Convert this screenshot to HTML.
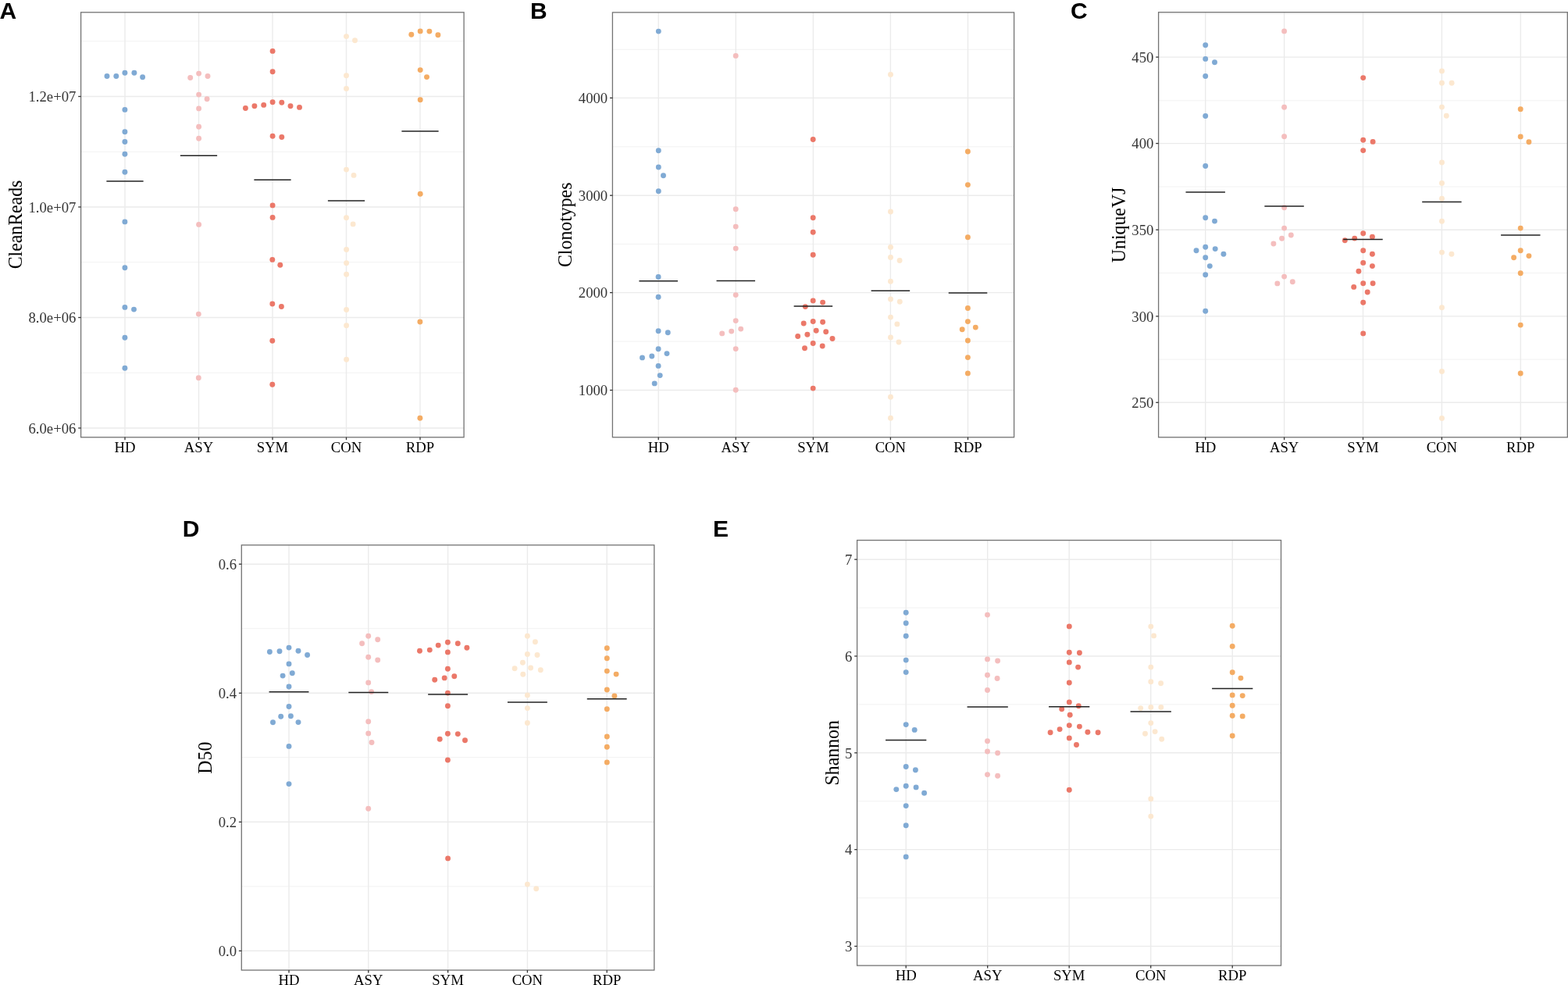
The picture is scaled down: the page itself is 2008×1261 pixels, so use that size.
<!DOCTYPE html><html><head><meta charset="utf-8"><title>Figure</title><style>html,body{margin:0;padding:0;background:#fff;overflow:hidden;}svg{display:block;}.t{font-family:"Liberation Serif","Times New Roman",serif;}.lab{font-family:"Liberation Sans",Arial,sans-serif;font-weight:bold;}</style></head><body><svg width="2008" height="1261" viewBox="0 0 2008 1261"><rect x="0" y="0" width="2008" height="1261" fill="#fff"/><g><line x1="103.6" x2="594.1" y1="52.75" y2="52.75" stroke="#F2F2F2" stroke-width="1.0"/><line x1="103.6" x2="594.1" y1="194.25" y2="194.25" stroke="#F2F2F2" stroke-width="1.0"/><line x1="103.6" x2="594.1" y1="335.75" y2="335.75" stroke="#F2F2F2" stroke-width="1.0"/><line x1="103.6" x2="594.1" y1="477.25" y2="477.25" stroke="#F2F2F2" stroke-width="1.0"/><line x1="103.6" x2="594.1" y1="123.5" y2="123.5" stroke="#EBEBEB" stroke-width="1.4"/><line x1="103.6" x2="594.1" y1="265" y2="265" stroke="#EBEBEB" stroke-width="1.4"/><line x1="103.6" x2="594.1" y1="406.5" y2="406.5" stroke="#EBEBEB" stroke-width="1.4"/><line x1="103.6" x2="594.1" y1="548" y2="548" stroke="#EBEBEB" stroke-width="1.4"/><line x1="160" x2="160" y1="15.8" y2="559.8" stroke="#EBEBEB" stroke-width="1.4"/><line x1="254.5" x2="254.5" y1="15.8" y2="559.8" stroke="#EBEBEB" stroke-width="1.4"/><line x1="349" x2="349" y1="15.8" y2="559.8" stroke="#EBEBEB" stroke-width="1.4"/><line x1="443.5" x2="443.5" y1="15.8" y2="559.8" stroke="#EBEBEB" stroke-width="1.4"/><line x1="538" x2="538" y1="15.8" y2="559.8" stroke="#EBEBEB" stroke-width="1.4"/></g><g><circle cx="137" cy="97.5" r="3.45" fill="#80AAD4"/><circle cx="148.8" cy="97.5" r="3.45" fill="#80AAD4"/><circle cx="159.9" cy="93.3" r="3.45" fill="#80AAD4"/><circle cx="171.9" cy="93.3" r="3.45" fill="#80AAD4"/><circle cx="182.6" cy="98.8" r="3.45" fill="#80AAD4"/><circle cx="159.9" cy="140.4" r="3.45" fill="#80AAD4"/><circle cx="159.9" cy="168.7" r="3.45" fill="#80AAD4"/><circle cx="159.9" cy="181.5" r="3.45" fill="#80AAD4"/><circle cx="159.9" cy="197.2" r="3.45" fill="#80AAD4"/><circle cx="159.9" cy="220.3" r="3.45" fill="#80AAD4"/><circle cx="159.9" cy="283.9" r="3.45" fill="#80AAD4"/><circle cx="159.9" cy="342.8" r="3.45" fill="#80AAD4"/><circle cx="159.9" cy="393.4" r="3.45" fill="#80AAD4"/><circle cx="171.5" cy="396.1" r="3.45" fill="#80AAD4"/><circle cx="159.9" cy="432.3" r="3.45" fill="#80AAD4"/><circle cx="159.9" cy="471.3" r="3.45" fill="#80AAD4"/><circle cx="243.7" cy="99.5" r="3.45" fill="#F4BEBE"/><circle cx="254.6" cy="94.1" r="3.45" fill="#F4BEBE"/><circle cx="266" cy="97.5" r="3.45" fill="#F4BEBE"/><circle cx="254.6" cy="121.1" r="3.45" fill="#F4BEBE"/><circle cx="265.1" cy="126.7" r="3.45" fill="#F4BEBE"/><circle cx="254.6" cy="138.9" r="3.45" fill="#F4BEBE"/><circle cx="254.6" cy="162.2" r="3.45" fill="#F4BEBE"/><circle cx="254.6" cy="177.2" r="3.45" fill="#F4BEBE"/><circle cx="254.6" cy="287.4" r="3.45" fill="#F4BEBE"/><circle cx="254.3" cy="402.1" r="3.45" fill="#F4BEBE"/><circle cx="254.3" cy="483.8" r="3.45" fill="#F4BEBE"/><circle cx="349.1" cy="65.4" r="3.45" fill="#EB7869"/><circle cx="349.1" cy="91.8" r="3.45" fill="#EB7869"/><circle cx="314.4" cy="138.5" r="3.45" fill="#EB7869"/><circle cx="325.9" cy="135.7" r="3.45" fill="#EB7869"/><circle cx="337.7" cy="134.4" r="3.45" fill="#EB7869"/><circle cx="349.1" cy="130.8" r="3.45" fill="#EB7869"/><circle cx="360.8" cy="131.2" r="3.45" fill="#EB7869"/><circle cx="372" cy="135.7" r="3.45" fill="#EB7869"/><circle cx="383.5" cy="137.4" r="3.45" fill="#EB7869"/><circle cx="349.1" cy="174.2" r="3.45" fill="#EB7869"/><circle cx="360.8" cy="175.5" r="3.45" fill="#EB7869"/><circle cx="349.1" cy="262.9" r="3.45" fill="#EB7869"/><circle cx="349.1" cy="278.4" r="3.45" fill="#EB7869"/><circle cx="348.8" cy="332.4" r="3.45" fill="#EB7869"/><circle cx="358.8" cy="339.3" r="3.45" fill="#EB7869"/><circle cx="348.8" cy="389" r="3.45" fill="#EB7869"/><circle cx="360.4" cy="392.5" r="3.45" fill="#EB7869"/><circle cx="348.8" cy="436.3" r="3.45" fill="#EB7869"/><circle cx="348.8" cy="492.2" r="3.45" fill="#EB7869"/><circle cx="443.5" cy="46.6" r="3.45" fill="#FCE8D0"/><circle cx="454.5" cy="51.7" r="3.45" fill="#FCE8D0"/><circle cx="443.5" cy="96.7" r="3.45" fill="#FCE8D0"/><circle cx="443.5" cy="113.4" r="3.45" fill="#FCE8D0"/><circle cx="443.5" cy="217.1" r="3.45" fill="#FCE8D0"/><circle cx="453" cy="224.4" r="3.45" fill="#FCE8D0"/><circle cx="443.5" cy="278.8" r="3.45" fill="#FCE8D0"/><circle cx="452.1" cy="286.9" r="3.45" fill="#FCE8D0"/><circle cx="443.6" cy="319.5" r="3.45" fill="#FCE8D0"/><circle cx="443.6" cy="336.8" r="3.45" fill="#FCE8D0"/><circle cx="443.6" cy="351.3" r="3.45" fill="#FCE8D0"/><circle cx="443.6" cy="396.5" r="3.45" fill="#FCE8D0"/><circle cx="443.6" cy="416.7" r="3.45" fill="#FCE8D0"/><circle cx="443.6" cy="460.2" r="3.45" fill="#FCE8D0"/><circle cx="526.8" cy="44.2" r="3.45" fill="#F4AC64"/><circle cx="538.2" cy="39.9" r="3.45" fill="#F4AC64"/><circle cx="549.9" cy="40.1" r="3.45" fill="#F4AC64"/><circle cx="560.9" cy="44.8" r="3.45" fill="#F4AC64"/><circle cx="538.2" cy="89.6" r="3.45" fill="#F4AC64"/><circle cx="546.5" cy="98.6" r="3.45" fill="#F4AC64"/><circle cx="538.2" cy="127.7" r="3.45" fill="#F4AC64"/><circle cx="538.2" cy="248.3" r="3.45" fill="#F4AC64"/><circle cx="537.9" cy="412" r="3.45" fill="#F4AC64"/><circle cx="537.9" cy="535.2" r="3.45" fill="#F4AC64"/></g><g><line x1="136.38" x2="183.62" y1="231.9" y2="231.9" stroke="#222" stroke-width="1.5"/><line x1="230.88" x2="278.12" y1="199.3" y2="199.3" stroke="#222" stroke-width="1.5"/><line x1="325.38" x2="372.62" y1="230.2" y2="230.2" stroke="#222" stroke-width="1.5"/><line x1="419.88" x2="467.12" y1="257.1" y2="257.1" stroke="#222" stroke-width="1.5"/><line x1="514.38" x2="561.62" y1="168" y2="168" stroke="#222" stroke-width="1.5"/></g><rect x="103.6" y="15.8" width="490.5" height="544" fill="none" stroke="#737373" stroke-width="1.3"/><g><line x1="100.2" x2="103.6" y1="123.5" y2="123.5" stroke="#333" stroke-width="1.3"/><line x1="100.2" x2="103.6" y1="265" y2="265" stroke="#333" stroke-width="1.3"/><line x1="100.2" x2="103.6" y1="406.5" y2="406.5" stroke="#333" stroke-width="1.3"/><line x1="100.2" x2="103.6" y1="548" y2="548" stroke="#333" stroke-width="1.3"/><line x1="160" x2="160" y1="559.8" y2="563.2" stroke="#333" stroke-width="1.3"/><line x1="254.5" x2="254.5" y1="559.8" y2="563.2" stroke="#333" stroke-width="1.3"/><line x1="349" x2="349" y1="559.8" y2="563.2" stroke="#333" stroke-width="1.3"/><line x1="443.5" x2="443.5" y1="559.8" y2="563.2" stroke="#333" stroke-width="1.3"/><line x1="538" x2="538" y1="559.8" y2="563.2" stroke="#333" stroke-width="1.3"/></g><g class="t" font-size="18.7" fill="#333"><text x="97.4" y="130.2" text-anchor="end">1.2e+07</text><text x="97.4" y="271.7" text-anchor="end">1.0e+07</text><text x="97.4" y="413.2" text-anchor="end">8.0e+06</text><text x="97.4" y="554.7" text-anchor="end">6.0e+06</text></g><g class="t" font-size="18.7" fill="#000"><text x="160" y="578.8" text-anchor="middle">HD</text><text x="254.5" y="578.8" text-anchor="middle">ASY</text><text x="349" y="578.8" text-anchor="middle">SYM</text><text x="443.5" y="578.8" text-anchor="middle">CON</text><text x="538" y="578.8" text-anchor="middle">RDP</text></g><text class="t" font-size="23.8" fill="#000" text-anchor="middle" transform="translate(27.8,287.5) scale(1.06,1) rotate(-90)">CleanReads</text><text class="lab" font-size="30" fill="#000" x="-0.4" y="23.6">A</text><g><line x1="784.4" x2="1298.6" y1="63.3" y2="63.3" stroke="#F2F2F2" stroke-width="1.0"/><line x1="784.4" x2="1298.6" y1="187.8" y2="187.8" stroke="#F2F2F2" stroke-width="1.0"/><line x1="784.4" x2="1298.6" y1="312.4" y2="312.4" stroke="#F2F2F2" stroke-width="1.0"/><line x1="784.4" x2="1298.6" y1="437.1" y2="437.1" stroke="#F2F2F2" stroke-width="1.0"/><line x1="784.4" x2="1298.6" y1="125.4" y2="125.4" stroke="#EBEBEB" stroke-width="1.4"/><line x1="784.4" x2="1298.6" y1="250.2" y2="250.2" stroke="#EBEBEB" stroke-width="1.4"/><line x1="784.4" x2="1298.6" y1="374.6" y2="374.6" stroke="#EBEBEB" stroke-width="1.4"/><line x1="784.4" x2="1298.6" y1="499.5" y2="499.5" stroke="#EBEBEB" stroke-width="1.4"/><line x1="843.2" x2="843.2" y1="15.9" y2="559.8" stroke="#EBEBEB" stroke-width="1.4"/><line x1="942.3" x2="942.3" y1="15.9" y2="559.8" stroke="#EBEBEB" stroke-width="1.4"/><line x1="1041.4" x2="1041.4" y1="15.9" y2="559.8" stroke="#EBEBEB" stroke-width="1.4"/><line x1="1140.4" x2="1140.4" y1="15.9" y2="559.8" stroke="#EBEBEB" stroke-width="1.4"/><line x1="1239.5" x2="1239.5" y1="15.9" y2="559.8" stroke="#EBEBEB" stroke-width="1.4"/></g><g><circle cx="843.3" cy="40.1" r="3.45" fill="#80AAD4"/><circle cx="843.3" cy="192.8" r="3.45" fill="#80AAD4"/><circle cx="843.3" cy="214" r="3.45" fill="#80AAD4"/><circle cx="849.5" cy="224.7" r="3.45" fill="#80AAD4"/><circle cx="843.3" cy="244.8" r="3.45" fill="#80AAD4"/><circle cx="843.1" cy="354.5" r="3.45" fill="#80AAD4"/><circle cx="843.1" cy="380.2" r="3.45" fill="#80AAD4"/><circle cx="843.1" cy="423.7" r="3.45" fill="#80AAD4"/><circle cx="855.3" cy="425.8" r="3.45" fill="#80AAD4"/><circle cx="843.1" cy="446.8" r="3.45" fill="#80AAD4"/><circle cx="854" cy="452.6" r="3.45" fill="#80AAD4"/><circle cx="822.5" cy="457.9" r="3.45" fill="#80AAD4"/><circle cx="834.8" cy="456" r="3.45" fill="#80AAD4"/><circle cx="843.1" cy="468.4" r="3.45" fill="#80AAD4"/><circle cx="845.2" cy="480.6" r="3.45" fill="#80AAD4"/><circle cx="838.2" cy="490.9" r="3.45" fill="#80AAD4"/><circle cx="942.2" cy="71.4" r="3.45" fill="#F4BEBE"/><circle cx="942.2" cy="267.8" r="3.45" fill="#F4BEBE"/><circle cx="942.2" cy="290.1" r="3.45" fill="#F4BEBE"/><circle cx="942.2" cy="318.1" r="3.45" fill="#F4BEBE"/><circle cx="942.2" cy="377.6" r="3.45" fill="#F4BEBE"/><circle cx="942.2" cy="410.6" r="3.45" fill="#F4BEBE"/><circle cx="936.7" cy="424.1" r="3.45" fill="#F4BEBE"/><circle cx="948.7" cy="421.1" r="3.45" fill="#F4BEBE"/><circle cx="924.7" cy="426.9" r="3.45" fill="#F4BEBE"/><circle cx="942.2" cy="446.6" r="3.45" fill="#F4BEBE"/><circle cx="942.2" cy="499.3" r="3.45" fill="#F4BEBE"/><circle cx="1041.2" cy="178.5" r="3.45" fill="#EB7869"/><circle cx="1041.2" cy="278.7" r="3.45" fill="#EB7869"/><circle cx="1041.2" cy="297.3" r="3.45" fill="#EB7869"/><circle cx="1041.2" cy="326.3" r="3.45" fill="#EB7869"/><circle cx="1041.2" cy="384.9" r="3.45" fill="#EB7869"/><circle cx="1053.6" cy="387.1" r="3.45" fill="#EB7869"/><circle cx="1031.3" cy="392.6" r="3.45" fill="#EB7869"/><circle cx="1041.2" cy="411.5" r="3.45" fill="#EB7869"/><circle cx="1053.6" cy="412.3" r="3.45" fill="#EB7869"/><circle cx="1029.2" cy="414" r="3.45" fill="#EB7869"/><circle cx="1045.2" cy="423.3" r="3.45" fill="#EB7869"/><circle cx="1057.7" cy="424.8" r="3.45" fill="#EB7869"/><circle cx="1033.9" cy="428.2" r="3.45" fill="#EB7869"/><circle cx="1021.7" cy="430.5" r="3.45" fill="#EB7869"/><circle cx="1066" cy="433.5" r="3.45" fill="#EB7869"/><circle cx="1041.2" cy="439.5" r="3.45" fill="#EB7869"/><circle cx="1053.2" cy="443" r="3.45" fill="#EB7869"/><circle cx="1030.5" cy="445.7" r="3.45" fill="#EB7869"/><circle cx="1041.2" cy="497.1" r="3.45" fill="#EB7869"/><circle cx="1140.5" cy="95.4" r="3.45" fill="#FCE8D0"/><circle cx="1140.5" cy="271" r="3.45" fill="#FCE8D0"/><circle cx="1140.5" cy="316.4" r="3.45" fill="#FCE8D0"/><circle cx="1140.5" cy="329.5" r="3.45" fill="#FCE8D0"/><circle cx="1152.1" cy="333.5" r="3.45" fill="#FCE8D0"/><circle cx="1140.5" cy="360.3" r="3.45" fill="#FCE8D0"/><circle cx="1140.5" cy="383" r="3.45" fill="#FCE8D0"/><circle cx="1152.3" cy="386.2" r="3.45" fill="#FCE8D0"/><circle cx="1140.5" cy="406.1" r="3.45" fill="#FCE8D0"/><circle cx="1148.9" cy="414.9" r="3.45" fill="#FCE8D0"/><circle cx="1140.5" cy="432" r="3.45" fill="#FCE8D0"/><circle cx="1151" cy="438" r="3.45" fill="#FCE8D0"/><circle cx="1140.5" cy="508.3" r="3.45" fill="#FCE8D0"/><circle cx="1140.5" cy="535.2" r="3.45" fill="#FCE8D0"/><circle cx="1239.4" cy="194" r="3.45" fill="#F4AC64"/><circle cx="1239.4" cy="236.6" r="3.45" fill="#F4AC64"/><circle cx="1239.4" cy="303.8" r="3.45" fill="#F4AC64"/><circle cx="1239.4" cy="394.5" r="3.45" fill="#F4AC64"/><circle cx="1239.4" cy="411.6" r="3.45" fill="#F4AC64"/><circle cx="1232.2" cy="421.7" r="3.45" fill="#F4AC64"/><circle cx="1249.3" cy="419.1" r="3.45" fill="#F4AC64"/><circle cx="1239.4" cy="436" r="3.45" fill="#F4AC64"/><circle cx="1239.4" cy="457.6" r="3.45" fill="#F4AC64"/><circle cx="1239.4" cy="477.9" r="3.45" fill="#F4AC64"/></g><g><line x1="818.43" x2="867.97" y1="359.7" y2="359.7" stroke="#222" stroke-width="1.5"/><line x1="917.53" x2="967.07" y1="359.4" y2="359.4" stroke="#222" stroke-width="1.5"/><line x1="1016.63" x2="1066.17" y1="392" y2="392" stroke="#222" stroke-width="1.5"/><line x1="1115.63" x2="1165.17" y1="372.3" y2="372.3" stroke="#222" stroke-width="1.5"/><line x1="1214.73" x2="1264.27" y1="375" y2="375" stroke="#222" stroke-width="1.5"/></g><rect x="784.4" y="15.9" width="514.2" height="543.9" fill="none" stroke="#737373" stroke-width="1.3"/><g><line x1="781" x2="784.4" y1="125.4" y2="125.4" stroke="#333" stroke-width="1.3"/><line x1="781" x2="784.4" y1="250.2" y2="250.2" stroke="#333" stroke-width="1.3"/><line x1="781" x2="784.4" y1="374.6" y2="374.6" stroke="#333" stroke-width="1.3"/><line x1="781" x2="784.4" y1="499.5" y2="499.5" stroke="#333" stroke-width="1.3"/><line x1="843.2" x2="843.2" y1="559.8" y2="563.2" stroke="#333" stroke-width="1.3"/><line x1="942.3" x2="942.3" y1="559.8" y2="563.2" stroke="#333" stroke-width="1.3"/><line x1="1041.4" x2="1041.4" y1="559.8" y2="563.2" stroke="#333" stroke-width="1.3"/><line x1="1140.4" x2="1140.4" y1="559.8" y2="563.2" stroke="#333" stroke-width="1.3"/><line x1="1239.5" x2="1239.5" y1="559.8" y2="563.2" stroke="#333" stroke-width="1.3"/></g><g class="t" font-size="18.7" fill="#333"><text x="778.2" y="132.1" text-anchor="end">4000</text><text x="778.2" y="256.9" text-anchor="end">3000</text><text x="778.2" y="381.3" text-anchor="end">2000</text><text x="778.2" y="506.2" text-anchor="end">1000</text></g><g class="t" font-size="18.7" fill="#000"><text x="843.2" y="578.8" text-anchor="middle">HD</text><text x="942.3" y="578.8" text-anchor="middle">ASY</text><text x="1041.4" y="578.8" text-anchor="middle">SYM</text><text x="1140.4" y="578.8" text-anchor="middle">CON</text><text x="1239.5" y="578.8" text-anchor="middle">RDP</text></g><text class="t" font-size="23.8" fill="#000" text-anchor="middle" transform="translate(732.2,287.8) scale(1.06,1) rotate(-90)">Clonotypes</text><text class="lab" font-size="30" fill="#000" x="678.9" y="23.8">B</text><g><line x1="1483.6" x2="2007.3" y1="17.8" y2="17.8" stroke="#F2F2F2" stroke-width="1.0"/><line x1="1483.6" x2="2007.3" y1="128.8" y2="128.8" stroke="#F2F2F2" stroke-width="1.0"/><line x1="1483.6" x2="2007.3" y1="239" y2="239" stroke="#F2F2F2" stroke-width="1.0"/><line x1="1483.6" x2="2007.3" y1="349.6" y2="349.6" stroke="#F2F2F2" stroke-width="1.0"/><line x1="1483.6" x2="2007.3" y1="460.1" y2="460.1" stroke="#F2F2F2" stroke-width="1.0"/><line x1="1483.6" x2="2007.3" y1="73.1" y2="73.1" stroke="#EBEBEB" stroke-width="1.4"/><line x1="1483.6" x2="2007.3" y1="183.6" y2="183.6" stroke="#EBEBEB" stroke-width="1.4"/><line x1="1483.6" x2="2007.3" y1="294.2" y2="294.2" stroke="#EBEBEB" stroke-width="1.4"/><line x1="1483.6" x2="2007.3" y1="404.9" y2="404.9" stroke="#EBEBEB" stroke-width="1.4"/><line x1="1483.6" x2="2007.3" y1="515.3" y2="515.3" stroke="#EBEBEB" stroke-width="1.4"/><line x1="1543.7" x2="1543.7" y1="15.7" y2="559.8" stroke="#EBEBEB" stroke-width="1.4"/><line x1="1644.6" x2="1644.6" y1="15.7" y2="559.8" stroke="#EBEBEB" stroke-width="1.4"/><line x1="1745.5" x2="1745.5" y1="15.7" y2="559.8" stroke="#EBEBEB" stroke-width="1.4"/><line x1="1846.4" x2="1846.4" y1="15.7" y2="559.8" stroke="#EBEBEB" stroke-width="1.4"/><line x1="1947.3" x2="1947.3" y1="15.7" y2="559.8" stroke="#EBEBEB" stroke-width="1.4"/></g><g><circle cx="1543.7" cy="57.7" r="3.45" fill="#80AAD4"/><circle cx="1543.7" cy="75.4" r="3.45" fill="#80AAD4"/><circle cx="1555.5" cy="79.7" r="3.45" fill="#80AAD4"/><circle cx="1543.7" cy="97.5" r="3.45" fill="#80AAD4"/><circle cx="1543.7" cy="148.5" r="3.45" fill="#80AAD4"/><circle cx="1543.7" cy="212.5" r="3.45" fill="#80AAD4"/><circle cx="1543.7" cy="278.8" r="3.45" fill="#80AAD4"/><circle cx="1555.5" cy="283.1" r="3.45" fill="#80AAD4"/><circle cx="1543.7" cy="316.2" r="3.45" fill="#80AAD4"/><circle cx="1532" cy="320.7" r="3.45" fill="#80AAD4"/><circle cx="1556.2" cy="318.6" r="3.45" fill="#80AAD4"/><circle cx="1566.9" cy="325.2" r="3.45" fill="#80AAD4"/><circle cx="1543.7" cy="329.7" r="3.45" fill="#80AAD4"/><circle cx="1549.3" cy="340.6" r="3.45" fill="#80AAD4"/><circle cx="1543.7" cy="351.8" r="3.45" fill="#80AAD4"/><circle cx="1543.7" cy="398.2" r="3.45" fill="#80AAD4"/><circle cx="1644.6" cy="39.9" r="3.45" fill="#F4BEBE"/><circle cx="1644.6" cy="137.3" r="3.45" fill="#F4BEBE"/><circle cx="1644.6" cy="174.8" r="3.45" fill="#F4BEBE"/><circle cx="1644.6" cy="265.8" r="3.45" fill="#F4BEBE"/><circle cx="1644.6" cy="292.1" r="3.45" fill="#F4BEBE"/><circle cx="1653.3" cy="301" r="3.45" fill="#F4BEBE"/><circle cx="1641.6" cy="305.3" r="3.45" fill="#F4BEBE"/><circle cx="1630.9" cy="312" r="3.45" fill="#F4BEBE"/><circle cx="1644.6" cy="354.1" r="3.45" fill="#F4BEBE"/><circle cx="1635.8" cy="362.9" r="3.45" fill="#F4BEBE"/><circle cx="1655.3" cy="360.8" r="3.45" fill="#F4BEBE"/><circle cx="1745.7" cy="99.6" r="3.45" fill="#EB7869"/><circle cx="1745.7" cy="179.3" r="3.45" fill="#EB7869"/><circle cx="1758.1" cy="181.4" r="3.45" fill="#EB7869"/><circle cx="1745.7" cy="192.6" r="3.45" fill="#EB7869"/><circle cx="1745.7" cy="298.7" r="3.45" fill="#EB7869"/><circle cx="1757.4" cy="303.2" r="3.45" fill="#EB7869"/><circle cx="1734.7" cy="305.1" r="3.45" fill="#EB7869"/><circle cx="1722.3" cy="307.7" r="3.45" fill="#EB7869"/><circle cx="1745.7" cy="320.7" r="3.45" fill="#EB7869"/><circle cx="1757.4" cy="325.2" r="3.45" fill="#EB7869"/><circle cx="1745.7" cy="336.4" r="3.45" fill="#EB7869"/><circle cx="1757.4" cy="340.6" r="3.45" fill="#EB7869"/><circle cx="1739.9" cy="347.3" r="3.45" fill="#EB7869"/><circle cx="1745.7" cy="362.7" r="3.45" fill="#EB7869"/><circle cx="1758.1" cy="362.7" r="3.45" fill="#EB7869"/><circle cx="1733.7" cy="367.4" r="3.45" fill="#EB7869"/><circle cx="1751.2" cy="374" r="3.45" fill="#EB7869"/><circle cx="1745.7" cy="387.3" r="3.45" fill="#EB7869"/><circle cx="1745.7" cy="426.9" r="3.45" fill="#EB7869"/><circle cx="1846.5" cy="90.9" r="3.45" fill="#FCE8D0"/><circle cx="1846.5" cy="106.3" r="3.45" fill="#FCE8D0"/><circle cx="1859.1" cy="106.3" r="3.45" fill="#FCE8D0"/><circle cx="1846.5" cy="137.1" r="3.45" fill="#FCE8D0"/><circle cx="1852.3" cy="148.2" r="3.45" fill="#FCE8D0"/><circle cx="1846.5" cy="208" r="3.45" fill="#FCE8D0"/><circle cx="1846.5" cy="234.5" r="3.45" fill="#FCE8D0"/><circle cx="1846.5" cy="254.2" r="3.45" fill="#FCE8D0"/><circle cx="1846.5" cy="283.3" r="3.45" fill="#FCE8D0"/><circle cx="1846.5" cy="323.1" r="3.45" fill="#FCE8D0"/><circle cx="1858.9" cy="325.2" r="3.45" fill="#FCE8D0"/><circle cx="1846.5" cy="393.7" r="3.45" fill="#FCE8D0"/><circle cx="1846.5" cy="475.5" r="3.45" fill="#FCE8D0"/><circle cx="1846.5" cy="535.5" r="3.45" fill="#FCE8D0"/><circle cx="1947.2" cy="139.7" r="3.45" fill="#F4AC64"/><circle cx="1947.2" cy="174.9" r="3.45" fill="#F4AC64"/><circle cx="1957.9" cy="181.7" r="3.45" fill="#F4AC64"/><circle cx="1947.2" cy="292.1" r="3.45" fill="#F4AC64"/><circle cx="1947.2" cy="320.8" r="3.45" fill="#F4AC64"/><circle cx="1938.6" cy="329.8" r="3.45" fill="#F4AC64"/><circle cx="1957.9" cy="327.6" r="3.45" fill="#F4AC64"/><circle cx="1947.2" cy="349.7" r="3.45" fill="#F4AC64"/><circle cx="1947.2" cy="416.1" r="3.45" fill="#F4AC64"/><circle cx="1947.2" cy="478" r="3.45" fill="#F4AC64"/></g><g><line x1="1518.48" x2="1568.92" y1="245.9" y2="245.9" stroke="#222" stroke-width="1.5"/><line x1="1619.38" x2="1669.82" y1="264.1" y2="264.1" stroke="#222" stroke-width="1.5"/><line x1="1720.28" x2="1770.72" y1="306.4" y2="306.4" stroke="#222" stroke-width="1.5"/><line x1="1821.18" x2="1871.62" y1="258.5" y2="258.5" stroke="#222" stroke-width="1.5"/><line x1="1922.08" x2="1972.52" y1="301.1" y2="301.1" stroke="#222" stroke-width="1.5"/></g><rect x="1483.6" y="15.7" width="523.7" height="544.1" fill="none" stroke="#737373" stroke-width="1.3"/><g><line x1="1480.2" x2="1483.6" y1="73.1" y2="73.1" stroke="#333" stroke-width="1.3"/><line x1="1480.2" x2="1483.6" y1="183.6" y2="183.6" stroke="#333" stroke-width="1.3"/><line x1="1480.2" x2="1483.6" y1="294.2" y2="294.2" stroke="#333" stroke-width="1.3"/><line x1="1480.2" x2="1483.6" y1="404.9" y2="404.9" stroke="#333" stroke-width="1.3"/><line x1="1480.2" x2="1483.6" y1="515.3" y2="515.3" stroke="#333" stroke-width="1.3"/><line x1="1543.7" x2="1543.7" y1="559.8" y2="563.2" stroke="#333" stroke-width="1.3"/><line x1="1644.6" x2="1644.6" y1="559.8" y2="563.2" stroke="#333" stroke-width="1.3"/><line x1="1745.5" x2="1745.5" y1="559.8" y2="563.2" stroke="#333" stroke-width="1.3"/><line x1="1846.4" x2="1846.4" y1="559.8" y2="563.2" stroke="#333" stroke-width="1.3"/><line x1="1947.3" x2="1947.3" y1="559.8" y2="563.2" stroke="#333" stroke-width="1.3"/></g><g class="t" font-size="18.7" fill="#333"><text x="1477.4" y="79.8" text-anchor="end">450</text><text x="1477.4" y="190.3" text-anchor="end">400</text><text x="1477.4" y="300.9" text-anchor="end">350</text><text x="1477.4" y="411.6" text-anchor="end">300</text><text x="1477.4" y="522" text-anchor="end">250</text></g><g class="t" font-size="18.7" fill="#000"><text x="1543.7" y="578.8" text-anchor="middle">HD</text><text x="1644.6" y="578.8" text-anchor="middle">ASY</text><text x="1745.5" y="578.8" text-anchor="middle">SYM</text><text x="1846.4" y="578.8" text-anchor="middle">CON</text><text x="1947.3" y="578.8" text-anchor="middle">RDP</text></g><text class="t" font-size="23.8" fill="#000" text-anchor="middle" transform="translate(1441.1,287.9) scale(1.06,1) rotate(-90)">UniqueVJ</text><text class="lab" font-size="30" fill="#000" x="1371" y="23.8">C</text><g><line x1="309.3" x2="837.8" y1="804.7" y2="804.7" stroke="#F2F2F2" stroke-width="1.0"/><line x1="309.3" x2="837.8" y1="969.7" y2="969.7" stroke="#F2F2F2" stroke-width="1.0"/><line x1="309.3" x2="837.8" y1="1134.8" y2="1134.8" stroke="#F2F2F2" stroke-width="1.0"/><line x1="309.3" x2="837.8" y1="722.2" y2="722.2" stroke="#EBEBEB" stroke-width="1.4"/><line x1="309.3" x2="837.8" y1="887.3" y2="887.3" stroke="#EBEBEB" stroke-width="1.4"/><line x1="309.3" x2="837.8" y1="1052.3" y2="1052.3" stroke="#EBEBEB" stroke-width="1.4"/><line x1="309.3" x2="837.8" y1="1217.3" y2="1217.3" stroke="#EBEBEB" stroke-width="1.4"/><line x1="370" x2="370" y1="697.8" y2="1242" stroke="#EBEBEB" stroke-width="1.4"/><line x1="471.8" x2="471.8" y1="697.8" y2="1242" stroke="#EBEBEB" stroke-width="1.4"/><line x1="573.6" x2="573.6" y1="697.8" y2="1242" stroke="#EBEBEB" stroke-width="1.4"/><line x1="675.4" x2="675.4" y1="697.8" y2="1242" stroke="#EBEBEB" stroke-width="1.4"/><line x1="777.2" x2="777.2" y1="697.8" y2="1242" stroke="#EBEBEB" stroke-width="1.4"/></g><g><circle cx="345.4" cy="834.5" r="3.45" fill="#80AAD4"/><circle cx="358" cy="833.8" r="3.45" fill="#80AAD4"/><circle cx="370" cy="829.1" r="3.45" fill="#80AAD4"/><circle cx="382" cy="833.2" r="3.45" fill="#80AAD4"/><circle cx="393.6" cy="838.5" r="3.45" fill="#80AAD4"/><circle cx="370" cy="849.9" r="3.45" fill="#80AAD4"/><circle cx="374.3" cy="861.7" r="3.45" fill="#80AAD4"/><circle cx="362.1" cy="865.1" r="3.45" fill="#80AAD4"/><circle cx="370" cy="879" r="3.45" fill="#80AAD4"/><circle cx="370" cy="904.5" r="3.45" fill="#80AAD4"/><circle cx="359.7" cy="917.3" r="3.45" fill="#80AAD4"/><circle cx="372.4" cy="916.7" r="3.45" fill="#80AAD4"/><circle cx="349.5" cy="924.8" r="3.45" fill="#80AAD4"/><circle cx="382" cy="924.6" r="3.45" fill="#80AAD4"/><circle cx="370" cy="955.4" r="3.45" fill="#80AAD4"/><circle cx="370" cy="1003.6" r="3.45" fill="#80AAD4"/><circle cx="471.7" cy="814.3" r="3.45" fill="#F4BEBE"/><circle cx="483.7" cy="818.8" r="3.45" fill="#F4BEBE"/><circle cx="463.6" cy="823.8" r="3.45" fill="#F4BEBE"/><circle cx="471.7" cy="841.3" r="3.45" fill="#F4BEBE"/><circle cx="483.7" cy="845" r="3.45" fill="#F4BEBE"/><circle cx="471.7" cy="873.9" r="3.45" fill="#F4BEBE"/><circle cx="475.6" cy="885.6" r="3.45" fill="#F4BEBE"/><circle cx="471.7" cy="923.7" r="3.45" fill="#F4BEBE"/><circle cx="471.7" cy="938.9" r="3.45" fill="#F4BEBE"/><circle cx="476" cy="950.5" r="3.45" fill="#F4BEBE"/><circle cx="471.7" cy="1035.3" r="3.45" fill="#F4BEBE"/><circle cx="537.5" cy="833.2" r="3.45" fill="#EB7869"/><circle cx="550.3" cy="832.1" r="3.45" fill="#EB7869"/><circle cx="561.2" cy="826.1" r="3.45" fill="#EB7869"/><circle cx="573.4" cy="822.3" r="3.45" fill="#EB7869"/><circle cx="586.3" cy="823.8" r="3.45" fill="#EB7869"/><circle cx="597.9" cy="829.3" r="3.45" fill="#EB7869"/><circle cx="573.4" cy="834.9" r="3.45" fill="#EB7869"/><circle cx="573.4" cy="856.3" r="3.45" fill="#EB7869"/><circle cx="556.7" cy="870.2" r="3.45" fill="#EB7869"/><circle cx="569.2" cy="867.9" r="3.45" fill="#EB7869"/><circle cx="581.8" cy="865.7" r="3.45" fill="#EB7869"/><circle cx="573.4" cy="887.1" r="3.45" fill="#EB7869"/><circle cx="573.4" cy="903.8" r="3.45" fill="#EB7869"/><circle cx="573.4" cy="939.2" r="3.45" fill="#EB7869"/><circle cx="586.3" cy="939.6" r="3.45" fill="#EB7869"/><circle cx="563.2" cy="946.2" r="3.45" fill="#EB7869"/><circle cx="595.5" cy="947.7" r="3.45" fill="#EB7869"/><circle cx="573.4" cy="973" r="3.45" fill="#EB7869"/><circle cx="573.6" cy="1098.9" r="3.45" fill="#EB7869"/><circle cx="675.4" cy="814.3" r="3.45" fill="#FCE8D0"/><circle cx="685.4" cy="821.8" r="3.45" fill="#FCE8D0"/><circle cx="675.4" cy="837.5" r="3.45" fill="#FCE8D0"/><circle cx="688" cy="838.5" r="3.45" fill="#FCE8D0"/><circle cx="669.4" cy="848.2" r="3.45" fill="#FCE8D0"/><circle cx="659.1" cy="855.7" r="3.45" fill="#FCE8D0"/><circle cx="679.6" cy="855" r="3.45" fill="#FCE8D0"/><circle cx="692.3" cy="857.8" r="3.45" fill="#FCE8D0"/><circle cx="669.8" cy="863.2" r="3.45" fill="#FCE8D0"/><circle cx="675.4" cy="889.9" r="3.45" fill="#FCE8D0"/><circle cx="675.4" cy="906.6" r="3.45" fill="#FCE8D0"/><circle cx="675.4" cy="925.5" r="3.45" fill="#FCE8D0"/><circle cx="675.4" cy="1132.1" r="3.45" fill="#FCE8D0"/><circle cx="686.7" cy="1137.7" r="3.45" fill="#FCE8D0"/><circle cx="777.3" cy="829.8" r="3.45" fill="#F4AC64"/><circle cx="777.3" cy="842.8" r="3.45" fill="#F4AC64"/><circle cx="777.3" cy="859.1" r="3.45" fill="#F4AC64"/><circle cx="789.1" cy="863.1" r="3.45" fill="#F4AC64"/><circle cx="777.3" cy="883" r="3.45" fill="#F4AC64"/><circle cx="786.9" cy="891" r="3.45" fill="#F4AC64"/><circle cx="777.3" cy="907.7" r="3.45" fill="#F4AC64"/><circle cx="777.3" cy="943" r="3.45" fill="#F4AC64"/><circle cx="777.3" cy="956.3" r="3.45" fill="#F4AC64"/><circle cx="777.3" cy="975.9" r="3.45" fill="#F4AC64"/></g><g><line x1="344.55" x2="395.45" y1="885.8" y2="885.8" stroke="#222" stroke-width="1.5"/><line x1="446.35" x2="497.25" y1="886.5" y2="886.5" stroke="#222" stroke-width="1.5"/><line x1="548.15" x2="599.05" y1="889.1" y2="889.1" stroke="#222" stroke-width="1.5"/><line x1="649.95" x2="700.85" y1="898.9" y2="898.9" stroke="#222" stroke-width="1.5"/><line x1="751.75" x2="802.65" y1="894.8" y2="894.8" stroke="#222" stroke-width="1.5"/></g><rect x="309.3" y="697.8" width="528.5" height="544.2" fill="none" stroke="#737373" stroke-width="1.3"/><g><line x1="305.9" x2="309.3" y1="722.2" y2="722.2" stroke="#333" stroke-width="1.3"/><line x1="305.9" x2="309.3" y1="887.3" y2="887.3" stroke="#333" stroke-width="1.3"/><line x1="305.9" x2="309.3" y1="1052.3" y2="1052.3" stroke="#333" stroke-width="1.3"/><line x1="305.9" x2="309.3" y1="1217.3" y2="1217.3" stroke="#333" stroke-width="1.3"/><line x1="370" x2="370" y1="1242" y2="1245.4" stroke="#333" stroke-width="1.3"/><line x1="471.8" x2="471.8" y1="1242" y2="1245.4" stroke="#333" stroke-width="1.3"/><line x1="573.6" x2="573.6" y1="1242" y2="1245.4" stroke="#333" stroke-width="1.3"/><line x1="675.4" x2="675.4" y1="1242" y2="1245.4" stroke="#333" stroke-width="1.3"/><line x1="777.2" x2="777.2" y1="1242" y2="1245.4" stroke="#333" stroke-width="1.3"/></g><g class="t" font-size="18.7" fill="#333"><text x="303.1" y="728.9" text-anchor="end">0.6</text><text x="303.1" y="894" text-anchor="end">0.4</text><text x="303.1" y="1059" text-anchor="end">0.2</text><text x="303.1" y="1224" text-anchor="end">0.0</text></g><g class="t" font-size="18.7" fill="#000"><text x="370" y="1261" text-anchor="middle">HD</text><text x="471.8" y="1261" text-anchor="middle">ASY</text><text x="573.6" y="1261" text-anchor="middle">SYM</text><text x="675.4" y="1261" text-anchor="middle">CON</text><text x="777.2" y="1261" text-anchor="middle">RDP</text></g><text class="t" font-size="23.8" fill="#000" text-anchor="middle" transform="translate(271.1,970.2) scale(1.06,1) rotate(-90)">D50</text><text class="lab" font-size="30" fill="#000" x="233.8" y="687.3">D</text><g><line x1="1097.6" x2="1640.5" y1="778.1" y2="778.1" stroke="#F2F2F2" stroke-width="1.0"/><line x1="1097.6" x2="1640.5" y1="901.9" y2="901.9" stroke="#F2F2F2" stroke-width="1.0"/><line x1="1097.6" x2="1640.5" y1="1025.7" y2="1025.7" stroke="#F2F2F2" stroke-width="1.0"/><line x1="1097.6" x2="1640.5" y1="1149.5" y2="1149.5" stroke="#F2F2F2" stroke-width="1.0"/><line x1="1097.6" x2="1640.5" y1="716.2" y2="716.2" stroke="#EBEBEB" stroke-width="1.4"/><line x1="1097.6" x2="1640.5" y1="840" y2="840" stroke="#EBEBEB" stroke-width="1.4"/><line x1="1097.6" x2="1640.5" y1="963.8" y2="963.8" stroke="#EBEBEB" stroke-width="1.4"/><line x1="1097.6" x2="1640.5" y1="1087.6" y2="1087.6" stroke="#EBEBEB" stroke-width="1.4"/><line x1="1097.6" x2="1640.5" y1="1211.4" y2="1211.4" stroke="#EBEBEB" stroke-width="1.4"/><line x1="1160.2" x2="1160.2" y1="691.6" y2="1236.1" stroke="#EBEBEB" stroke-width="1.4"/><line x1="1264.7" x2="1264.7" y1="691.6" y2="1236.1" stroke="#EBEBEB" stroke-width="1.4"/><line x1="1369.2" x2="1369.2" y1="691.6" y2="1236.1" stroke="#EBEBEB" stroke-width="1.4"/><line x1="1473.7" x2="1473.7" y1="691.6" y2="1236.1" stroke="#EBEBEB" stroke-width="1.4"/><line x1="1578.2" x2="1578.2" y1="691.6" y2="1236.1" stroke="#EBEBEB" stroke-width="1.4"/></g><g><circle cx="1160.2" cy="784.3" r="3.45" fill="#80AAD4"/><circle cx="1160.2" cy="797.8" r="3.45" fill="#80AAD4"/><circle cx="1160.2" cy="814.3" r="3.45" fill="#80AAD4"/><circle cx="1160.2" cy="845.1" r="3.45" fill="#80AAD4"/><circle cx="1160.2" cy="860.6" r="3.45" fill="#80AAD4"/><circle cx="1160.2" cy="927.6" r="3.45" fill="#80AAD4"/><circle cx="1171.2" cy="934.4" r="3.45" fill="#80AAD4"/><circle cx="1160.2" cy="981.5" r="3.45" fill="#80AAD4"/><circle cx="1172.4" cy="985.8" r="3.45" fill="#80AAD4"/><circle cx="1160.2" cy="1006.3" r="3.45" fill="#80AAD4"/><circle cx="1147.8" cy="1010.6" r="3.45" fill="#80AAD4"/><circle cx="1173.1" cy="1007.9" r="3.45" fill="#80AAD4"/><circle cx="1183.6" cy="1015.3" r="3.45" fill="#80AAD4"/><circle cx="1160.2" cy="1031.6" r="3.45" fill="#80AAD4"/><circle cx="1160.2" cy="1056.7" r="3.45" fill="#80AAD4"/><circle cx="1160.2" cy="1096.9" r="3.45" fill="#80AAD4"/><circle cx="1264.5" cy="787.1" r="3.45" fill="#F4BEBE"/><circle cx="1264.5" cy="843.9" r="3.45" fill="#F4BEBE"/><circle cx="1277.6" cy="846" r="3.45" fill="#F4BEBE"/><circle cx="1264.5" cy="864.2" r="3.45" fill="#F4BEBE"/><circle cx="1277.1" cy="868.5" r="3.45" fill="#F4BEBE"/><circle cx="1264.5" cy="883.5" r="3.45" fill="#F4BEBE"/><circle cx="1264.5" cy="948.8" r="3.45" fill="#F4BEBE"/><circle cx="1264.5" cy="962" r="3.45" fill="#F4BEBE"/><circle cx="1277.6" cy="964" r="3.45" fill="#F4BEBE"/><circle cx="1264.5" cy="991.6" r="3.45" fill="#F4BEBE"/><circle cx="1277.6" cy="993.3" r="3.45" fill="#F4BEBE"/><circle cx="1369.3" cy="801.9" r="3.45" fill="#EB7869"/><circle cx="1369.3" cy="835.3" r="3.45" fill="#EB7869"/><circle cx="1382.4" cy="835.7" r="3.45" fill="#EB7869"/><circle cx="1369.3" cy="847.9" r="3.45" fill="#EB7869"/><circle cx="1380.6" cy="854.1" r="3.45" fill="#EB7869"/><circle cx="1369.3" cy="874" r="3.45" fill="#EB7869"/><circle cx="1369.3" cy="898.9" r="3.45" fill="#EB7869"/><circle cx="1381.3" cy="903.8" r="3.45" fill="#EB7869"/><circle cx="1359.7" cy="907.7" r="3.45" fill="#EB7869"/><circle cx="1370.2" cy="915.2" r="3.45" fill="#EB7869"/><circle cx="1369.3" cy="928.6" r="3.45" fill="#EB7869"/><circle cx="1382.4" cy="930.1" r="3.45" fill="#EB7869"/><circle cx="1357.1" cy="933.6" r="3.45" fill="#EB7869"/><circle cx="1345.1" cy="937.8" r="3.45" fill="#EB7869"/><circle cx="1392.9" cy="937.2" r="3.45" fill="#EB7869"/><circle cx="1406.1" cy="937.8" r="3.45" fill="#EB7869"/><circle cx="1369.3" cy="944.9" r="3.45" fill="#EB7869"/><circle cx="1378.5" cy="953.5" r="3.45" fill="#EB7869"/><circle cx="1369.3" cy="1011.3" r="3.45" fill="#EB7869"/><circle cx="1473.8" cy="802.1" r="3.45" fill="#FCE8D0"/><circle cx="1477.6" cy="813.9" r="3.45" fill="#FCE8D0"/><circle cx="1473.8" cy="854.1" r="3.45" fill="#FCE8D0"/><circle cx="1473.8" cy="872.8" r="3.45" fill="#FCE8D0"/><circle cx="1486.6" cy="874.7" r="3.45" fill="#FCE8D0"/><circle cx="1460.7" cy="906.6" r="3.45" fill="#FCE8D0"/><circle cx="1473.8" cy="905.5" r="3.45" fill="#FCE8D0"/><circle cx="1486.8" cy="905.5" r="3.45" fill="#FCE8D0"/><circle cx="1473.8" cy="925.6" r="3.45" fill="#FCE8D0"/><circle cx="1466.5" cy="939.3" r="3.45" fill="#FCE8D0"/><circle cx="1479.1" cy="936.6" r="3.45" fill="#FCE8D0"/><circle cx="1487.7" cy="946.2" r="3.45" fill="#FCE8D0"/><circle cx="1473.8" cy="1022.8" r="3.45" fill="#FCE8D0"/><circle cx="1473.8" cy="1045.1" r="3.45" fill="#FCE8D0"/><circle cx="1578.2" cy="801.3" r="3.45" fill="#F4AC64"/><circle cx="1578.2" cy="827.4" r="3.45" fill="#F4AC64"/><circle cx="1578.2" cy="860.8" r="3.45" fill="#F4AC64"/><circle cx="1588.9" cy="868.1" r="3.45" fill="#F4AC64"/><circle cx="1578.2" cy="889.9" r="3.45" fill="#F4AC64"/><circle cx="1591.2" cy="890.6" r="3.45" fill="#F4AC64"/><circle cx="1578.2" cy="903.2" r="3.45" fill="#F4AC64"/><circle cx="1578.2" cy="916.3" r="3.45" fill="#F4AC64"/><circle cx="1591.2" cy="916.9" r="3.45" fill="#F4AC64"/><circle cx="1578.2" cy="942" r="3.45" fill="#F4AC64"/></g><g><line x1="1134.08" x2="1186.33" y1="947.5" y2="947.5" stroke="#222" stroke-width="1.5"/><line x1="1238.58" x2="1290.83" y1="904.9" y2="904.9" stroke="#222" stroke-width="1.5"/><line x1="1343.08" x2="1395.33" y1="904.7" y2="904.7" stroke="#222" stroke-width="1.5"/><line x1="1447.58" x2="1499.83" y1="910.9" y2="910.9" stroke="#222" stroke-width="1.5"/><line x1="1552.08" x2="1604.33" y1="881.4" y2="881.4" stroke="#222" stroke-width="1.5"/></g><rect x="1097.6" y="691.6" width="542.9" height="544.5" fill="none" stroke="#737373" stroke-width="1.3"/><g><line x1="1094.2" x2="1097.6" y1="716.2" y2="716.2" stroke="#333" stroke-width="1.3"/><line x1="1094.2" x2="1097.6" y1="840" y2="840" stroke="#333" stroke-width="1.3"/><line x1="1094.2" x2="1097.6" y1="963.8" y2="963.8" stroke="#333" stroke-width="1.3"/><line x1="1094.2" x2="1097.6" y1="1087.6" y2="1087.6" stroke="#333" stroke-width="1.3"/><line x1="1094.2" x2="1097.6" y1="1211.4" y2="1211.4" stroke="#333" stroke-width="1.3"/><line x1="1160.2" x2="1160.2" y1="1236.1" y2="1239.5" stroke="#333" stroke-width="1.3"/><line x1="1264.7" x2="1264.7" y1="1236.1" y2="1239.5" stroke="#333" stroke-width="1.3"/><line x1="1369.2" x2="1369.2" y1="1236.1" y2="1239.5" stroke="#333" stroke-width="1.3"/><line x1="1473.7" x2="1473.7" y1="1236.1" y2="1239.5" stroke="#333" stroke-width="1.3"/><line x1="1578.2" x2="1578.2" y1="1236.1" y2="1239.5" stroke="#333" stroke-width="1.3"/></g><g class="t" font-size="18.7" fill="#333"><text x="1091.4" y="722.9" text-anchor="end">7</text><text x="1091.4" y="846.7" text-anchor="end">6</text><text x="1091.4" y="970.5" text-anchor="end">5</text><text x="1091.4" y="1094.3" text-anchor="end">4</text><text x="1091.4" y="1218.1" text-anchor="end">3</text></g><g class="t" font-size="18.7" fill="#000"><text x="1160.2" y="1255.1" text-anchor="middle">HD</text><text x="1264.7" y="1255.1" text-anchor="middle">ASY</text><text x="1369.2" y="1255.1" text-anchor="middle">SYM</text><text x="1473.7" y="1255.1" text-anchor="middle">CON</text><text x="1578.2" y="1255.1" text-anchor="middle">RDP</text></g><text class="t" font-size="23.8" fill="#000" text-anchor="middle" transform="translate(1074.3,963.8) scale(1.06,1) rotate(-90)">Shannon</text><text class="lab" font-size="30" fill="#000" x="913.1" y="687.3">E</text></svg></body></html>
